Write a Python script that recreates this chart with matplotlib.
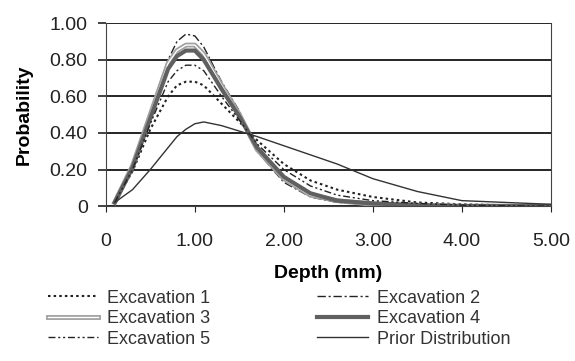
import numpy as np
import matplotlib
matplotlib.use('Agg')
import matplotlib.pyplot as plt
import matplotlib.patheffects as pe

plt.rcParams['font.family'] = ['Liberation Sans', 'DejaVu Sans']

depth = [0.1, 0.3, 0.5, 0.7, 0.8, 0.9, 1.0, 1.1, 1.3, 1.5, 1.7, 2.0, 2.3, 2.6, 3.0, 3.5, 4.0, 5.0]

exc1 = [0.02, 0.19, 0.42, 0.60, 0.66, 0.68, 0.68, 0.66, 0.56, 0.46, 0.36, 0.23, 0.14, 0.09, 0.05, 0.02, 0.01, 0.0]
exc2 = [0.02, 0.22, 0.50, 0.80, 0.90, 0.94, 0.93, 0.87, 0.68, 0.52, 0.30, 0.13, 0.05, 0.02, 0.01, 0.005, 0.0, 0.0]
exc3 = [0.02, 0.22, 0.50, 0.78, 0.85, 0.88, 0.88, 0.83, 0.66, 0.50, 0.31, 0.15, 0.06, 0.03, 0.01, 0.005, 0.0, 0.0]
exc4 = [0.02, 0.21, 0.48, 0.75, 0.82, 0.85, 0.85, 0.80, 0.64, 0.49, 0.32, 0.16, 0.07, 0.03, 0.015, 0.005, 0.0, 0.0]
exc5 = [0.02, 0.20, 0.45, 0.68, 0.74, 0.77, 0.77, 0.74, 0.60, 0.47, 0.34, 0.20, 0.11, 0.06, 0.03, 0.015, 0.005, 0.0]
prior = [0.02, 0.09, 0.20, 0.32, 0.38, 0.42, 0.45, 0.46, 0.44, 0.41, 0.38, 0.33, 0.28, 0.23, 0.15, 0.08, 0.03, 0.01]

xticks = [0, 1, 2, 3, 4, 5]
xticklabels = ['0', '1.00', '2.00', '3.00', '4.00', '5.00']
yticks = [0, 0.2, 0.4, 0.6, 0.8, 1.0]
yticklabels = ['0', '0.20', '0.40', '0.60', '0.80', '1.00']

fig = plt.figure(figsize=(5.75, 3.61), dpi=100)
ax = fig.add_axes([0.184, 0.429, 0.774, 0.507])

l1, = ax.plot(depth, exc1, color='#222222', lw=1.5, linestyle=(0, (1.2, 1.5)), label='Excavation 1')
l2, = ax.plot(depth, exc2, color='#222222', lw=1.0, linestyle=(0, (6, 2, 1.5, 2)), label='Excavation 2')
l3, = ax.plot(depth, exc3, color='white', lw=1.0, label='Excavation 3',
              path_effects=[pe.Stroke(linewidth=3.5, foreground='#a0a0a0'), pe.Normal()])
l4, = ax.plot(depth, exc4, color='#606060', lw=3.0, label='Excavation 4')
l5, = ax.plot(depth, exc5, color='#222222', lw=1.0, linestyle=(0, (5, 2, 1.5, 2, 1.5, 2)), label='Excavation 5')
l6, = ax.plot(depth, prior, color='#333333', lw=1.0, label='Prior Distribution')

ax.set_xlim(0, 5)
ax.set_ylim(0, 1)
ax.set_xticks(xticks)
ax.set_xticklabels(xticklabels)
ax.set_yticks(yticks)
ax.set_yticklabels(yticklabels)
ax.tick_params(axis='both', labelsize=14, colors='#222222')
ax.tick_params(axis='x', length=4, pad=15)
ax.tick_params(axis='y', length=6, width=1.2, pad=7)
ax.grid(axis='y', color='black', lw=1.2)
ax.set_axisbelow(True)
for s in ['left', 'right', 'bottom']:
    ax.spines[s].set_color('#444444')
ax.spines['top'].set_visible(False)

ax.set_xlabel('Depth (mm)', fontsize=14, fontweight='bold', labelpad=11)
ax.set_ylabel('Probability', fontsize=14, fontweight='bold', labelpad=12)

# legend laid out row by row like the original
handles = [l1, l3, l5, l2, l4, l6]
leg = fig.legend(handles, [h.get_label() for h in handles], loc='upper left',
                 bbox_to_anchor=(0.083, 0.198), ncol=2, frameon=False,
                 fontsize=13, handlelength=2.8, handletextpad=0.5, columnspacing=5.9,
                 labelspacing=0.2, borderpad=0, borderaxespad=0)
for t in leg.get_texts():
    t.set_color('#333333')

fig.savefig('out.png', dpi=100)
